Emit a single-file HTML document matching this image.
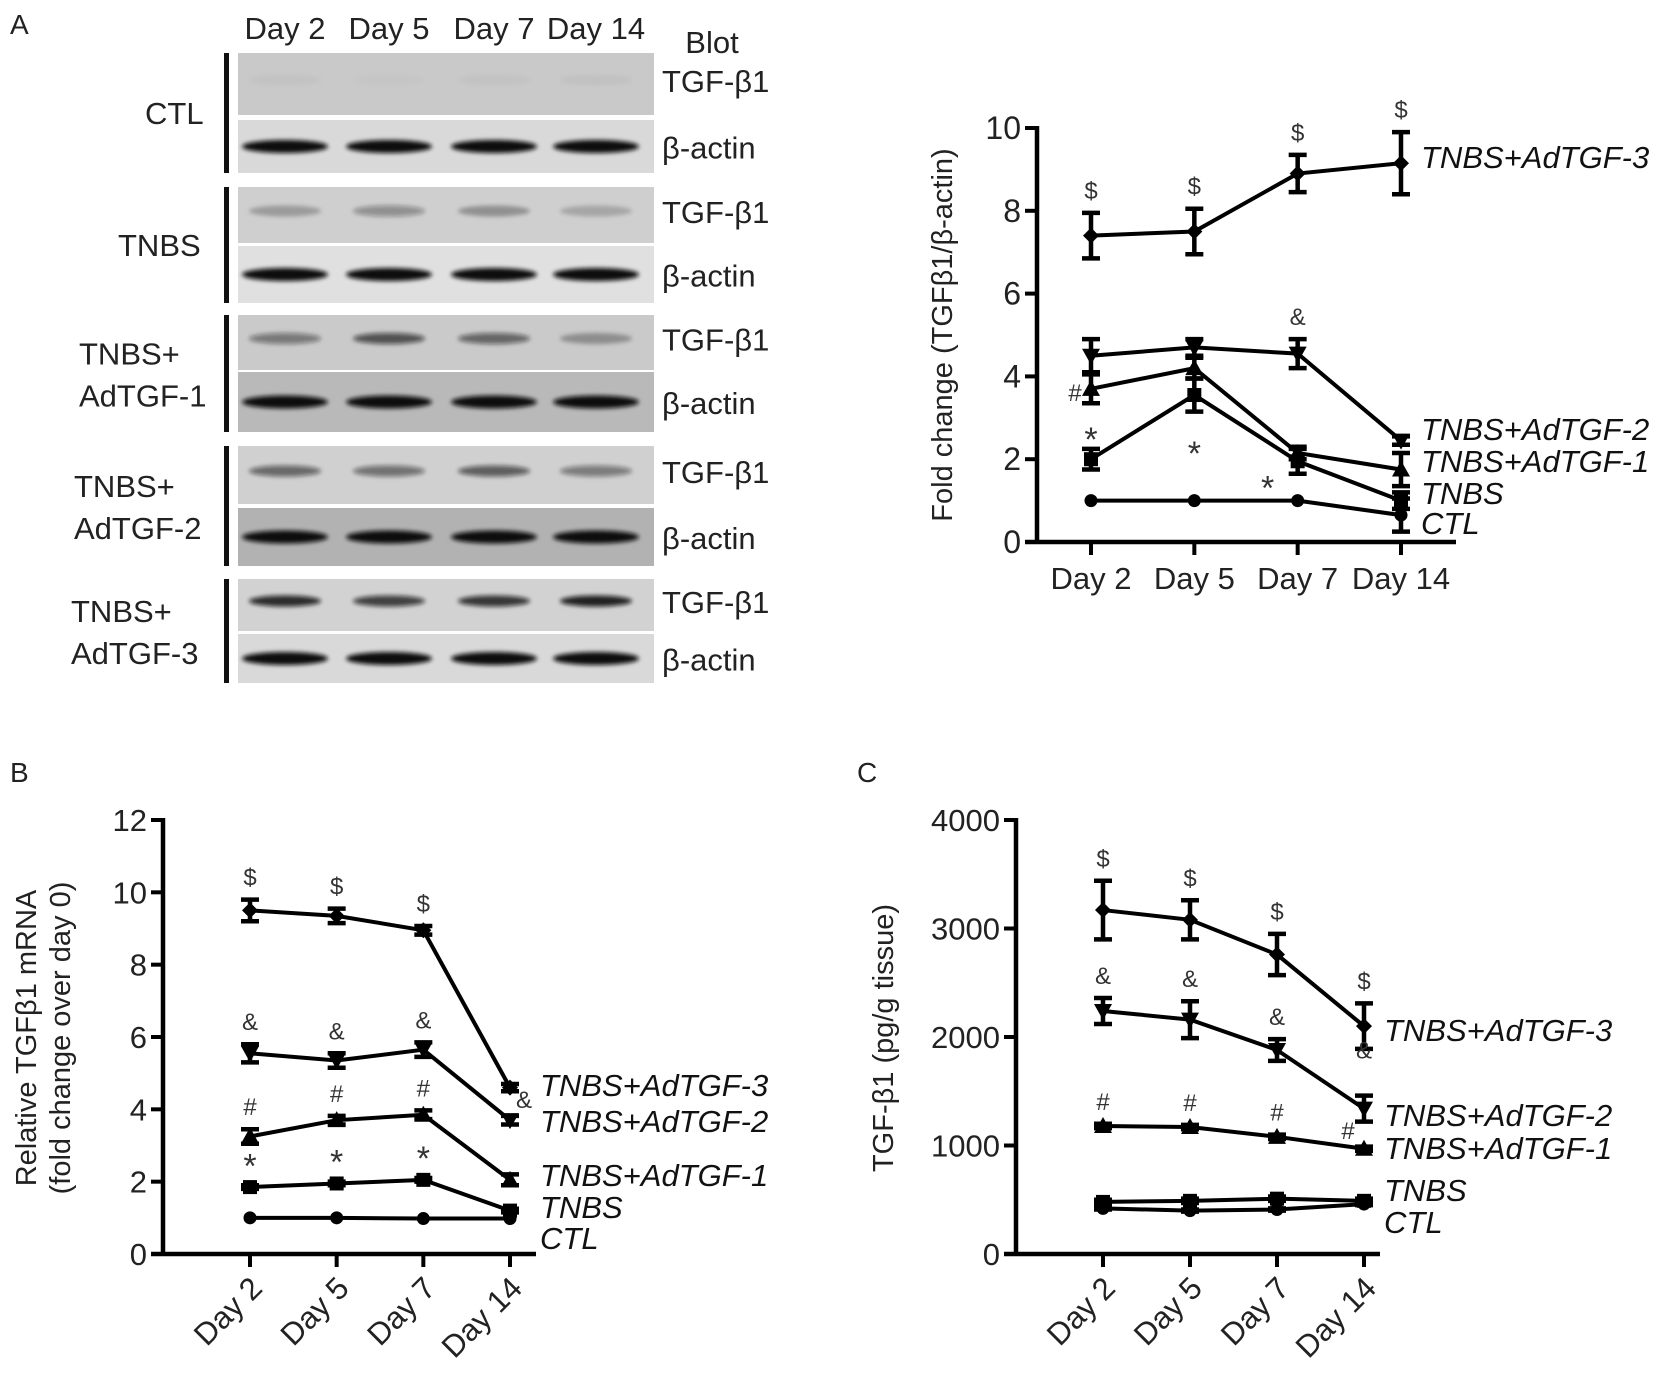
<!DOCTYPE html>
<html><head><meta charset="utf-8"><style>
html,body{margin:0;padding:0;background:#fff;}
svg{display:block;font-family:"Liberation Sans",Arial,sans-serif;}
</style></head><body>
<svg id="fig" width="1677" height="1382" viewBox="0 0 1677 1382" xmlns="http://www.w3.org/2000/svg">
<defs><filter id="blur" x="-20%" y="-100%" width="140%" height="300%"><feGaussianBlur stdDeviation="2.2"/></filter></defs>
<g id="blot"></g>
<g id="chartA"></g>
<g id="chartB"></g>
<g id="chartC"></g>
</svg>
<script>
const NS="http://www.w3.org/2000/svg";
const days=["Day 2","Day 5","Day 7","Day 14"];
const seriesNames=["TNBS+AdTGF-3","TNBS+AdTGF-2","TNBS+AdTGF-1","TNBS","CTL"];
const markers=["diamond","down","up","square","circle"];
// Chart A data (fold change)
const aTGF3=[7.4,7.5,8.9,9.15], aTGF3err=[0.55,0.55,0.45,0.75];
const aTGF2=[4.5,4.7,4.55,2.45], aTGF2err=[0.4,0.2,0.35,0.1];
const aTGF1=[3.7,4.2,2.15,1.75], aTGF1err=[0.35,0.25,0.15,0.4];
const aTNBS=[2.0,3.55,1.95,1.0], aTNBSerr=[0.25,0.4,0.3,0.2];
const aCTL=[1,1,1,0.65], aCTLerr=[0,0,0,0.4];
const aTicks=[0,2,4,6,8,10];
// Chart B data (mRNA)
const bTGF3=[9.5,9.35,8.95,4.6], bTGF3err=[0.3,0.2,0.12,0.1];
const bTGF2=[5.55,5.35,5.65,3.7], bTGF2err=[0.25,0.2,0.2,0.12];
const bTGF1=[3.25,3.7,3.85,2.05], bTGF1err=[0.2,0.12,0.12,0.15];
const bTNBS=[1.85,1.95,2.05,1.2], bTNBSerr=[0.05,0.05,0.05,0.05];
const bCTL=[1,1,0.98,0.98], bCTLerr=[0,0,0,0];
const bTicks=[0,2,4,6,8,10,12];
// Chart C data (pg/g)
const cTGF3=[3170,3080,2760,2100], cTGF3err=[270,180,190,210];
const cTGF2=[2240,2160,1880,1340], cTGF2err=[120,170,100,120];
const cTGF1=[1180,1170,1080,970], cTGF1err=[20,20,20,20];
const cTNBS=[480,490,510,490], cTNBSerr=[20,20,20,20];
const cCTL=[420,400,410,460], cCTLerr=[10,10,10,10];
const cTicks=[0,1000,2000,3000,4000];
// annotations: [series index, day index, symbol]
const aAnn=[[0,0,"$"],[0,1,"$"],[0,2,"$"],[0,3,"$"],[1,2,"&"]];
const bAnn=[[0,0,"$"],[0,1,"$"],[0,2,"$"],[1,0,"&"],[1,1,"&"],[1,2,"&"],[2,0,"#"],[2,1,"#"],[2,2,"#"],[3,0,"*"],[3,1,"*"],[3,2,"*"]];
const cAnn=[[0,0,"$"],[0,1,"$"],[0,2,"$"],[0,3,"$"],[1,0,"&"],[1,1,"&"],[1,2,"&"],[2,0,"#"],[2,1,"#"],[2,2,"#"]];

function el(tag,attrs,parent,text){const e=document.createElementNS(NS,tag);for(const k in attrs)e.setAttribute(k,attrs[k]);if(text!==undefined)e.textContent=text;parent.appendChild(e);return e;}

function marker(g,type,x,y){
  let m;
  if(type==="circle") m=el("circle",{cx:x,cy:y,r:6.5,fill:"#000"},g);
  else if(type==="square") m=el("rect",{x:x-7,y:y-7,width:14,height:14,fill:"#000"},g);
  else if(type==="diamond") m=el("polygon",{points:`${x},${y-8} ${x+8},${y} ${x},${y+8} ${x-8},${y}`,fill:"#000"},g);
  else if(type==="up") m=el("polygon",{points:`${x},${y-9} ${x+9},${y+7} ${x-9},${y+7}`,fill:"#000"},g);
  else m=el("polygon",{points:`${x},${y+9} ${x+9},${y-7} ${x-9},${y-7}`,fill:"#000"},g);
  
  
}

function chart(cfg){
  const g=document.getElementById(cfg.id);
  const xs=i=>cfg.dayX[0]+i*(cfg.dayX[1]-cfg.dayX[0])/3;
  const ys=v=>cfg.y0-(v-cfg.vmin)/(cfg.vmax-cfg.vmin)*(cfg.y0-cfg.yTop);
  const ax=el("g",{},g);
  
  el("line",{x1:cfg.axX,y1:cfg.yTop-2,x2:cfg.axX,y2:cfg.y0+2,stroke:"#000","stroke-width":4.5},ax);
  cfg.ticks.forEach(t=>{
    el("line",{x1:cfg.axX-12,y1:ys(t),x2:cfg.axX,y2:ys(t),stroke:"#000","stroke-width":4},ax);
    const tx=el("text",{x:cfg.axX-16,y:ys(t)+11,"text-anchor":"end","font-size":cfg.tickFont,fill:"#222"},ax,String(t));
    
  });
  const xa=el("g",{},g);
  
  el("line",{x1:cfg.axX-12,y1:cfg.y0,x2:cfg.axEnd,y2:cfg.y0,stroke:"#000","stroke-width":4.5},xa);
  days.forEach((d,i)=>{
    el("line",{x1:xs(i),y1:cfg.y0,x2:xs(i),y2:cfg.y0+13,stroke:"#000","stroke-width":4},xa);
    let t;
    if(cfg.rot) t=el("text",{x:xs(i)+14,y:cfg.y0+36,"text-anchor":"end","font-size":31,fill:"#222",transform:`rotate(-45 ${xs(i)+14} ${cfg.y0+36})`},xa,d);
    else t=el("text",{x:xs(i),y:cfg.y0+47,"text-anchor":"middle","font-size":31,fill:"#222"},xa,d);
    
  });
  cfg.series.forEach((s,si)=>{
    const sg=el("g",{},g);
    
    
    el("polyline",{points:s.v.map((v,i)=>xs(i)+","+ys(v)).join(" "),fill:"none",stroke:"#000","stroke-width":4},sg);
    s.v.forEach((v,i)=>{
      const e=s.e[i];
      if(e>0){
        const eb=el("path",{d:`M${xs(i)},${ys(v+e)}V${ys(v-e)}M${xs(i)-9},${ys(v+e)}h18M${xs(i)-9},${ys(v-e)}h18`,stroke:"#000","stroke-width":4.5,fill:"none"},sg);
        
      }
      marker(sg,markers[si],xs(i),ys(v));
    });
  });
  cfg.ann.forEach(a=>{
    const s=cfg.series[a[0]];const v=s.v[a[1]]+s.e[a[1]];
    const star=a[2]==="*";
    const t=el("text",{x:xs(a[1]),y:ys(v)-(star?8:14),"text-anchor":"middle","font-size":star?34:24,fill:"#333"},g,a[2]);
    
  });
  (cfg.extraAnn||[]).forEach(a=>{
    const s=cfg.series[a[0]];
    const t=el("text",{x:xs(a[1])+a[3],y:ys(s.v[a[1]])+a[4],"text-anchor":"middle","font-size":a[2]==="*"?34:24,fill:"#333"},g,a[2]);
    
  });
  cfg.labelY.forEach((y,i)=>{
    const t=el("text",{x:cfg.labelX,y:y+11,"font-size":31,"font-style":"italic",fill:"#111"},g,seriesNames[i]);
    
  });
  cfg.title.forEach((line,k)=>{
    const t=el("text",{x:cfg.titleX[k],y:cfg.titleY,"text-anchor":"middle","font-size":29,fill:"#222",transform:`rotate(-90 ${cfg.titleX[k]} ${cfg.titleY})`},g,line);
    
  });
  const L=el("text",{x:cfg.letter[0],y:cfg.letter[1],"font-size":28,fill:"#222"},g,cfg.letter[2]);
  
}

chart({id:"chartA",axX:1037,axEnd:1456,yTop:128,y0:542,vmin:0,vmax:10,ticks:aTicks,tickFont:32,dayX:[1091,1401],rot:false,
 series:[{v:aTGF3,e:aTGF3err},{v:aTGF2,e:aTGF2err},{v:aTGF1,e:aTGF1err},{v:aTNBS,e:aTNBSerr},{v:aCTL,e:aCTLerr}],
 ann:aAnn,extraAnn:[[2,0,"#",-16,12],[3,0,"*",0,-8],[3,1,"*",0,70],[3,2,"*",-30,38]],
 labelX:1421,labelY:[157,429,461,493,523],title:["Fold change (TGFβ1/β-actin)"],titleX:[952],titleY:335,letter:[10,34,"A"]});
chart({id:"chartB",axX:163,axEnd:536,yTop:820,y0:1254,vmin:0,vmax:12,ticks:bTicks,tickFont:31,dayX:[250,510],rot:true,
 series:[{v:bTGF3,e:bTGF3err},{v:bTGF2,e:bTGF2err},{v:bTGF1,e:bTGF1err},{v:bTNBS,e:bTNBSerr},{v:bCTL,e:bCTLerr}],
 ann:bAnn,extraAnn:[[1,3,"&",14,-12]],
 labelX:540,labelY:[1085,1121,1175,1207,1238],title:["Relative TGFβ1 mRNA","(fold change over day 0)"],titleX:[36,70],titleY:1038,letter:[10,782,"B"]});
chart({id:"chartC",axX:1016,axEnd:1380,yTop:820,y0:1254,vmin:0,vmax:4000,ticks:cTicks,tickFont:31,dayX:[1103,1364],rot:true,
 series:[{v:cTGF3,e:cTGF3err},{v:cTGF2,e:cTGF2err},{v:cTGF1,e:cTGF1err},{v:cTNBS,e:cTNBSerr},{v:cCTL,e:cCTLerr}],
 ann:cAnn,extraAnn:[[1,3,"&",0,-50],[2,3,"#",-16,-10]],
 labelX:1384,labelY:[1030,1115,1148,1190,1222],title:["TGF-β1 (pg/g tissue)"],titleX:[893],titleY:1038,letter:[857,782,"C"]});

// Western blot
const blotGroups=["CTL","TNBS","TNBS+|AdTGF-1","TNBS+|AdTGF-2","TNBS+|AdTGF-3"];
const rowsTop=[53,120,187,246,315,372,446,508,579,634];
const rowsBot=[115,173,243,303,370,432,504,566,631,683];
const rowBg=["#c9c9c9","#d9d9d9","#cfcfcf","#e0e0e0","#cacaca","#b9b9b9","#d0d0d0","#b2b2b2","#d2d2d2","#d9d9d9"];
const bandInt=[[0.03,0.02,0.03,0.04],[1,1,1,1],[0.25,0.35,0.3,0.2],[1,1,1,1],[0.45,0.65,0.55,0.3],[1,1,1,1],[0.55,0.5,0.6,0.45],[1,1,1,1],[0.85,0.75,0.8,0.9],[1,1,1,1]];
const bandX=[285,389,494,596];
const blot=document.getElementById("blot");
days.forEach((d,i)=>{const t=el("text",{x:bandX[i],y:39,"text-anchor":"middle","font-size":31,fill:"#222"},blot,d);});
const bl=el("text",{x:712,y:53,"text-anchor":"middle","font-size":31,fill:"#222"},blot,"Blot");

rowsTop.forEach((top,r)=>{
  const bot=rowsBot[r];
  const rr=el("rect",{x:238,y:top,width:416,height:bot-top,fill:rowBg[r]},blot);
  
  const cy=(top+bot)/2+(r%2?0:-4);
  bandX.forEach((bx,i)=>{
    const a=bandInt[r][i];
    const b=el("ellipse",{cx:bx,cy:cy,rx:r%2?43:36,ry:r%2?6.5:5.5,fill:"#111","fill-opacity":a,filter:"url(#blur)"},blot);
    
  });
  const lt=el("text",{x:662,y:cy+12,"font-size":31,fill:"#222"},blot,r%2?"β-actin":"TGF-β1");
  
});
const groupLeft=[145,118,79,74,71];
blotGroups.forEach((gname,k)=>{
  const top=rowsTop[k*2], bot=rowsBot[k*2+1];
  const bar=el("rect",{x:224,y:top,width:5,height:bot-top,fill:"#111"},blot);
  
  const parts=gname.split("|");const mid=(top+bot)/2;
  parts.forEach((p,j)=>{
    const y=parts.length===1?mid+11:mid-9+j*42;
    const t=el("text",{x:groupLeft[k],y:y,"font-size":31,fill:"#222"},blot,p);
    
  });
});
</script>
</body></html>
